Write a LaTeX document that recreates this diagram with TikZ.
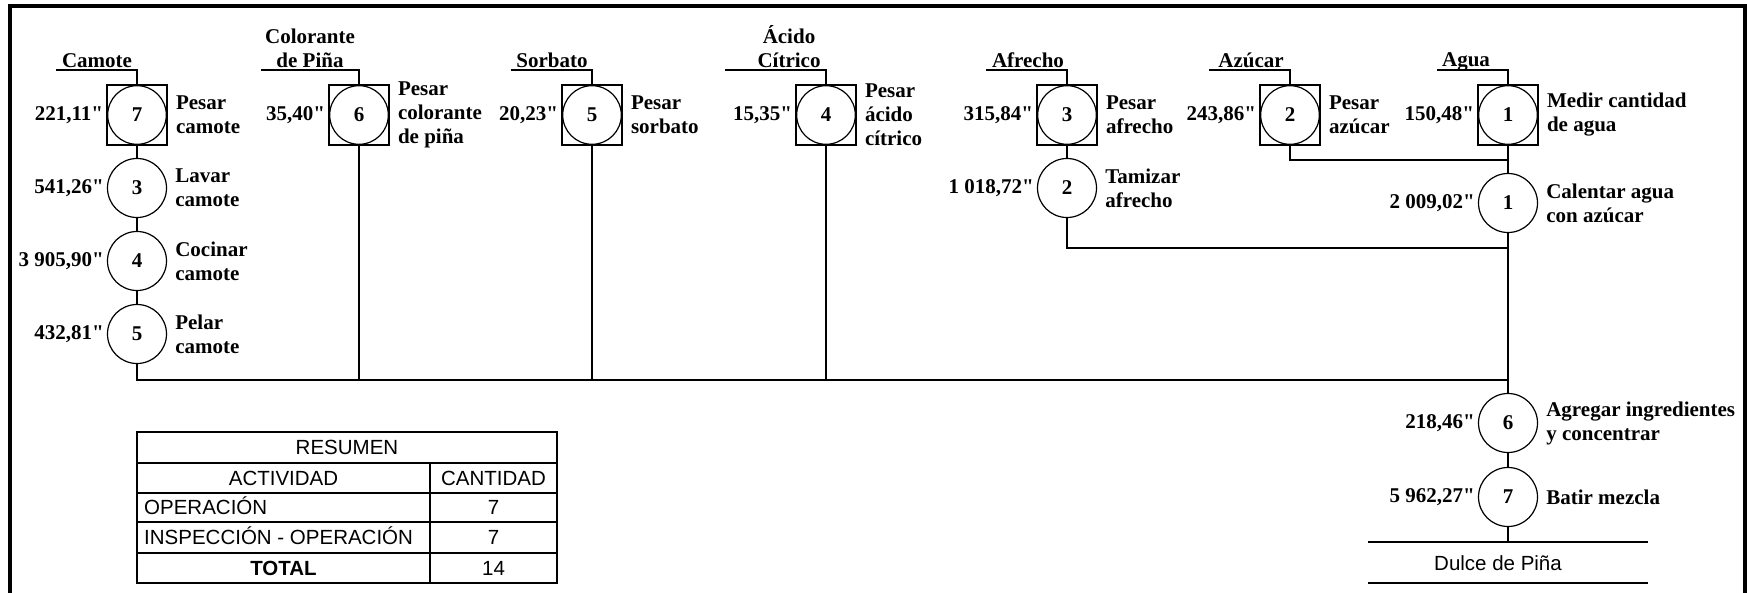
\documentclass[tikz,border=0pt]{standalone}
\usepackage{fontspec}
\setmainfont{Liberation Serif}[Ligatures=TeXOff]
\newfontfamily\arialf{Liberation Sans}
\begin{document}
\begin{tikzpicture}[x=1pt,y=-1pt,
  every node/.style={font=\bfseries\fontsize{21}{24}\selectfont},
  ln/.style={line width=1.6pt},
  opc/.style={circle, draw, line width=1.2pt, minimum size=59pt, inner sep=0pt},
  iop/.style={rectangle, draw, line width=1.6pt, minimum size=60pt, inner sep=0pt,
    path picture={\draw[line width=1.2pt] (path picture bounding box.center) circle[radius=29.3pt];}},
  tim/.style={anchor=east, inner sep=0pt},
  dsc/.style={anchor=west, align=left, inner sep=0pt},
  inl/.style={anchor=south, align=center, inner sep=0pt},
  tb/.style={font=\arialf\fontsize{20.5}{24}\selectfont, inner sep=0pt, text height=14.7pt, text depth=0pt},
]
\useasboundingbox (0,0) rectangle (1747,593);
% frame
\draw[line width=4pt] (10,593) -- (10,6) -- (1745,6) -- (1745,593);

% Camote column
\node[iop] (cam7) at (137,115) {7};
\node[opc] (cam3) at (137,188) {3};
\node[opc] (cam4) at (137,261) {4};
\node[opc] (cam5) at (137,334) {5};
\node[tim] (tcam7) at ([xshift=-3pt]cam7.west) {221,11"};
\node[tim] (tcam3) at ([xshift=-3pt]cam3.west) {541,26"};
\node[tim] (tcam4) at ([xshift=-3pt]cam4.west) {3 905,90"};
\node[tim] (tcam5) at ([xshift=-3pt]cam5.west) {432,81"};
\node[dsc] (dcam7) at ([xshift=8pt]cam7.east) {Pesar\\camote};
\node[dsc] (dcam3) at ([xshift=8pt]cam3.east) {Lavar\\camote};
\node[dsc] (dcam4) at ([xshift=8pt]cam4.east) {Cocinar\\camote};
\node[dsc] (dcam5) at ([xshift=8pt]cam5.east) {Pelar\\camote};
\coordinate (iCam) at (56,70);
\node[inl] (lCam) at (97,68) {Camote};
\draw[ln] (iCam) -| (cam7.north);

% Colorante
\node[iop] (col6) at (359,115) {6};
\node[tim] (tcol6) at ([xshift=-3pt]col6.west) {35,40"};
\node[dsc] (dcol6) at ([xshift=8pt]col6.east) {Pesar\\colorante\\de piña};
\coordinate (iCol) at (261,70);
\node[inl] (lCol) at (310,68) {Colorante\\de Piña};
\draw[ln] (iCol) -| (col6.north);

% Sorbato
\node[iop] (sor5) at (592,115) {5};
\node[tim] (tsor5) at ([xshift=-3pt]sor5.west) {20,23"};
\node[dsc] (dsor5) at ([xshift=8pt]sor5.east) {Pesar\\sorbato};
\coordinate (iSor) at (511,70);
\node[inl] (lSor) at (552,68) {Sorbato};
\draw[ln] (iSor) -| (sor5.north);

% Acido citrico
\node[iop] (aci4) at (826,115) {4};
\node[tim] (taci4) at ([xshift=-3pt]aci4.west) {15,35"};
\node[dsc] (daci4) at ([xshift=8pt]aci4.east) {Pesar\\ácido\\cítrico};
\coordinate (iAci) at (725,70);
\node[inl] (lAci) at (789,68) {Ácido\\Cítrico};
\draw[ln] (iAci) -| (aci4.north);

% Afrecho
\node[iop] (afr3) at (1067,115) {3};
\node[opc] (tam2) at (1067,188) {2};
\node[tim] (tafr3) at ([xshift=-3pt]afr3.west) {315,84"};
\node[tim] (ttam2) at ([xshift=-3pt]tam2.west) {1 018,72"};
\node[dsc] (dafr3) at ([xshift=8pt]afr3.east) {Pesar\\afrecho};
\node[dsc] (dtam2) at ([xshift=8pt]tam2.east) {Tamizar\\afrecho};
\coordinate (iAfr) at (986,70);
\node[inl] (lAfr) at (1028,68) {Afrecho};
\draw[ln] (iAfr) -| (afr3.north);
\draw[ln] (afr3) -- (tam2);

% Azucar
\node[iop] (azu2) at (1290,115) {2};
\node[tim] (tazu2) at ([xshift=-3pt]azu2.west) {243,86"};
\node[dsc] (dazu2) at ([xshift=8pt]azu2.east) {Pesar\\azúcar};
\coordinate (iAzu) at (1209,70);
\node[inl] (lAzu) at (1251,68) {Azúcar};
\draw[ln] (iAzu) -| (azu2.north);

% Agua
\node[iop] (agu1) at (1508,115) {1};
\node[opc] (cal1) at (1508,203) {1};
\node[opc] (agr6) at (1508,423) {6};
\node[opc] (bat7) at (1508,497) {7};
\node[tim] (tagu1) at ([xshift=-3pt]agu1.west) {150,48"};
\node[tim] (tcal1) at ([xshift=-3pt]cal1.west) {2 009,02"};
\node[tim] (tagr6) at ([xshift=-3pt]agr6.west) {218,46"};
\node[tim] (tbat7) at ([xshift=-3pt]bat7.west) {5 962,27"};
\node[dsc] (dagu1) at ([xshift=8pt]agu1.east) {Medir cantidad\\de agua};
\node[dsc] (dcal1) at ([xshift=8pt]cal1.east) {Calentar agua\\con azúcar};
\node[dsc] (dagr6) at ([xshift=8pt]agr6.east) {Agregar ingredientes\\y concentrar};
\node[dsc] (dbat7) at ([xshift=8pt]bat7.east) {Batir mezcla};
\coordinate (iAgu) at (1437,70);
\node[inl, text depth=0pt] (lAgu) at (1466,67) {Agua};
\draw[ln] (iAgu) -| (agu1.north);

% junctions
\coordinate (zJ) at (1508,160);
\coordinate (aJ) at (1508,248);
\coordinate (mJ) at (1508,380);
\draw[ln] (cam7) -- (cam3);
\draw[ln] (cam3) -- (cam4);
\draw[ln] (cam4) -- (cam5);
\draw[ln] (cam5.south) |- (mJ);
\draw[ln] (col6.south) -- (col6.south |- mJ);
\draw[ln] (sor5.south) -- (sor5.south |- mJ);
\draw[ln] (aci4.south) -- (aci4.south |- mJ);
\draw[ln] (tam2.south) |- (aJ);
\draw[ln] (azu2.south) |- (zJ);
\draw[ln] (agu1) -- (cal1);
\draw[ln] (cal1) -- (agr6);
\draw[ln] (agr6) -- (bat7);

% product
\coordinate (pL) at (1368,542);
\coordinate (pR) at (1648,542);
\coordinate (qL) at (1368,583);
\coordinate (qR) at (1648,583);
\draw[ln] (bat7.south) -- (bat7.south |- pL);
\draw[ln] (pL) -- (pR);
\draw[ln] (qL) -- (qR);
\node[tb] (prod) at (1498,563) {Dulce de Piña};

% summary table
\draw[line width=2pt] (137,432) rectangle (557,583);
\draw[line width=2pt] (137,463) -- (557,463);
\draw[line width=2pt] (137,493) -- (557,493);
\draw[line width=2pt] (137,522) -- (557,522);
\draw[line width=2pt] (137,553) -- (557,553);
\draw[line width=2pt] (430,463) -- (430,583);
\node[tb] (tRes) at (347,447.5) {RESUMEN};
\node[tb] (tAct) at (283.5,478) {ACTIVIDAD};
\node[tb] (tCan) at (493.5,478) {CANTIDAD};
\node[tb, anchor=west] (tOp) at (144,507.5) {OPERACIÓN};
\node[tb] (tOpN) at (493.5,507.5) {7};
\node[tb, anchor=west] (tIo) at (144,537.5) {INSPECCIÓN - OPERACIÓN};
\node[tb] (tIoN) at (493.5,537.5) {7};
\node[tb, font=\arialf\bfseries\fontsize{20.5}{24}\selectfont] (tTot) at (283.5,568) {TOTAL};
\node[tb] (tTotN) at (493.5,568) {14};
\end{tikzpicture}
\end{document}
